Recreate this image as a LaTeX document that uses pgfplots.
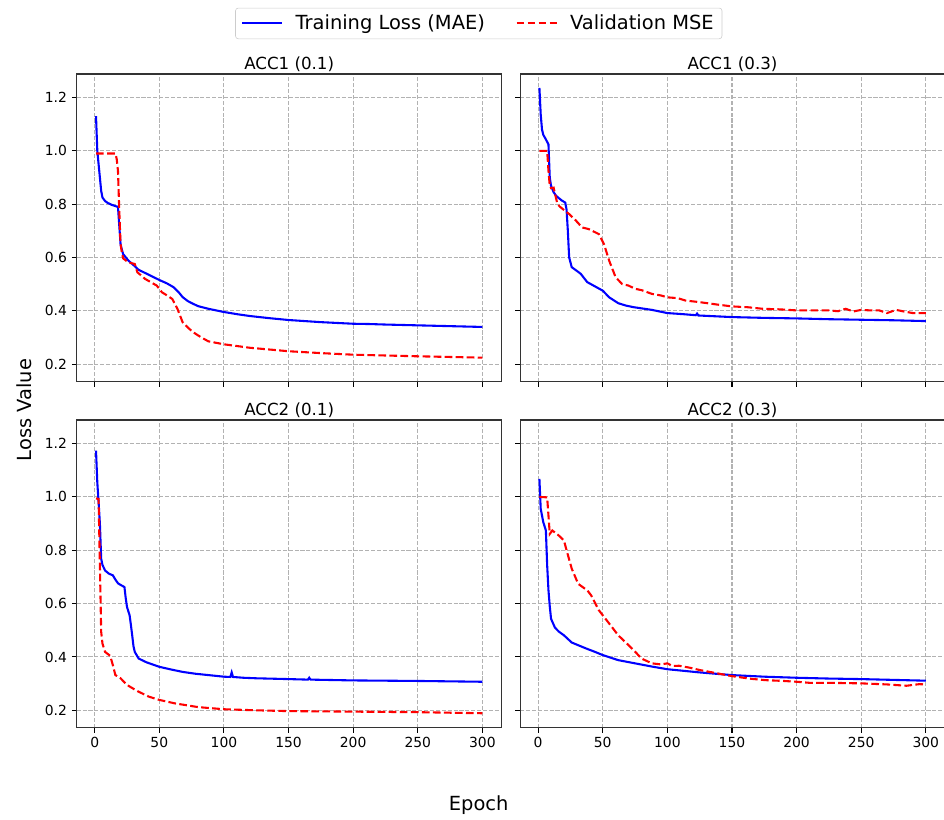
\documentclass[border=0pt]{standalone}
\usepackage{fontspec}
\setmainfont{DejaVu Sans}
\usepackage{pgfplots}
\pgfplotsset{compat=1.18}

% 1 px of the reference = 0.72pt
\pgfplotsset{
  panel/.style={
    anchor=north west,
    scale only axis, width=306pt, height=221.5pt,
    xmin=-13.95, xmax=314.95, ymin=0.135, ymax=1.288,
    xtick={0,50,100,150,200,250,300},
    ytick={0.2,0.4,0.6,0.8,1.0,1.2},
    grid=major,
    major grid style={black!30, line width=0.8pt, dash pattern=on 2.96pt off 1.28pt},
    tick align=outside, xtick pos=bottom, ytick pos=left,
    major tick length=3.5pt,
    tick style={black, line width=0.8pt},
    axis line style={black!80, line width=0.8pt},
    ticklabel style={font=\fontsize{10}{12}\selectfont},
    /pgf/number format/assume math mode=true,
    yticklabel style={/pgf/number format/.cd, fixed, fixed zerofill, precision=1},
    title style={font=\fontsize{12}{14}\selectfont, at={(0.5,1)}, anchor=base, yshift=-2.4pt},
  },
  train/.style={blue, line width=1.5pt, no markers},
  valid/.style={red, line width=1.5pt, no markers, dash pattern=on 5.55pt off 2.4pt},
}

\begin{document}
\begin{tikzpicture}
\useasboundingbox (0pt,0pt) rectangle (679.68pt,-589.68pt);

% ACC1 (0.1)
\begin{axis}[panel, at={(55.22pt,-53.28pt)}, title={ACC1 (0.1)}, xticklabels={},
  legend columns=2, legend cell align=left,
  legend image code/.code={\draw[#1] (0pt,0pt) -- (28.8pt,0pt);},
  legend style={at={(0.946,1.1644)}, anchor=center, draw=black!20, rounded corners=2pt,
    font=\fontsize{14}{16.8}\selectfont, inner xsep=4pt, inner ysep=3pt,
    /tikz/every odd column/.append style={column sep=7pt},
    /tikz/every even column/.append style={column sep=20pt}}]
\addplot[train] coordinates {
(1,1.130) (2,1.0) (3,0.95) (4,0.90) (5,0.85) (6,0.825) (8,0.812) (10,0.805) (13,0.798)
(16,0.793) (18,0.79) (19,0.72) (20,0.65) (21,0.63) (22,0.613) (26,0.589) (30,0.572)
(34,0.554) (40,0.54) (50,0.516) (56,0.503) (61,0.489) (65,0.47) (68,0.452) (72,0.437)
(76,0.427) (80,0.418) (88,0.408) (100,0.396) (110,0.388) (120,0.381) (135,0.373)
(150,0.366) (175,0.358) (200,0.352) (212,0.351) (225,0.349) (250,0.346) (275,0.343) (300,0.340)};
\addlegendentry{Training Loss (MAE)}
\addplot[valid] coordinates {
(1,0.99) (5,0.99) (10,0.99) (16,0.99) (17,0.97) (18,0.925) (19,0.776) (20,0.65) (21,0.62)
(22,0.597) (26,0.582) (31,0.576) (33,0.545) (39,0.52) (48,0.495) (52,0.47) (56,0.458)
(60,0.445) (64,0.408) (68,0.358) (72,0.338) (76,0.321) (82,0.302) (88,0.286) (100,0.275)
(120,0.262) (150,0.249) (175,0.242) (200,0.236) (250,0.230) (300,0.225)};
\addlegendentry{Validation MSE}
\end{axis}

% ACC1 (0.3)
\begin{axis}[panel, at={(374.47pt,-53.28pt)}, title={ACC1 (0.3)}, xticklabels={}, yticklabels={}]
\addplot[train] coordinates {
(1,1.236) (2,1.136) (3,1.08) (4,1.06) (6,1.043) (8,1.024) (9,0.90) (10,0.869) (12,0.845)
(14,0.831) (18,0.815) (21,0.806) (22,0.78) (23,0.70) (24,0.601) (26,0.564) (30,0.550)
(33,0.539) (38,0.508) (44,0.492) (50,0.476) (55,0.451) (62,0.429) (68,0.420) (74,0.414)
(88,0.404) (100,0.392) (112,0.388) (122,0.384) (123,0.390) (124,0.383) (150,0.377)
(175,0.374) (200,0.372) (225,0.369) (250,0.367) (275,0.365) (300,0.362)};
\addplot[valid] coordinates {
(1,1.0) (7,1.0) (8,0.925) (9,0.87) (10,0.86) (12,0.862) (13,0.84) (15,0.80) (17,0.79)
(24,0.763) (29,0.74) (34,0.713) (39,0.707) (47,0.688) (51,0.65) (55,0.588) (60,0.526)
(65,0.501) (70,0.495) (75,0.483) (80,0.478) (88,0.464) (95,0.458) (100,0.451) (108,0.448)
(114,0.439) (125,0.433) (140,0.423) (150,0.417) (162,0.414) (174,0.408) (187,0.406)
(200,0.402) (225,0.402) (232,0.399) (238,0.408) (244,0.398) (250,0.404) (257,0.402)
(264,0.402) (270,0.392) (277,0.404) (283,0.398) (290,0.392) (300,0.392)};
\end{axis}

% ACC2 (0.1)
\begin{axis}[panel, at={(55.22pt,-302.4pt)}, title={ACC2 (0.1)}]
\addplot[train] coordinates {
(1,1.173) (2,1.054) (3,0.98) (4,0.90) (5,0.768) (6,0.745) (8,0.724) (11,0.712) (14,0.706)
(16,0.69) (18,0.676) (20,0.670) (23,0.662) (24,0.62) (25,0.587) (27,0.556) (28,0.52)
(29,0.481) (30,0.44) (31,0.419) (34,0.394) (40,0.38) (50,0.363) (60,0.352) (68,0.344)
(78,0.337) (88,0.332) (100,0.326) (105,0.325) (106,0.342) (107,0.325) (115,0.322)
(125,0.320) (150,0.317) (165,0.315) (166,0.322) (167,0.315) (200,0.312) (250,0.310) (300,0.307)};
\addplot[valid] coordinates {
(1,0.994) (3,0.992) (4,0.743) (5,0.494) (6,0.45) (8,0.419) (12,0.404) (14,0.37) (16,0.332)
(20,0.32) (25,0.295) (33,0.272) (42,0.251) (50,0.239) (62,0.226) (80,0.212) (100,0.204)
(125,0.200) (150,0.197) (200,0.195) (250,0.193) (300,0.189)};
\end{axis}

% ACC2 (0.3)
\begin{axis}[panel, at={(374.47pt,-302.4pt)}, title={ACC2 (0.3)}, yticklabels={}]
\addplot[train] coordinates {
(1,1.067) (2,0.955) (4,0.905) (6,0.874) (7,0.743) (8,0.65) (9,0.59) (10,0.543) (13,0.51)
(16,0.495) (20,0.481) (26,0.454) (37,0.432) (44,0.419) (50,0.407) (62,0.388) (75,0.376)
(88,0.364) (100,0.354) (125,0.342) (150,0.332) (175,0.326) (200,0.322) (225,0.319)
(250,0.317) (275,0.314) (300,0.311)};
\addplot[valid] coordinates {
(1,1.0) (7,0.998) (8,0.93) (9,0.861) (11,0.874) (16,0.855) (20,0.836) (22,0.80) (26,0.731)
(31,0.674) (35,0.660) (38,0.65) (41,0.631) (47,0.575) (56,0.519) (62,0.481) (70,0.444)
(75,0.42) (80,0.394) (88,0.376) (95,0.372) (100,0.376) (104,0.366) (109,0.367) (117,0.360)
(125,0.351) (137,0.340) (150,0.328) (165,0.318) (176,0.313) (190,0.310) (200,0.307)
(210,0.303) (225,0.303) (250,0.301) (270,0.297) (285,0.292) (295,0.298) (300,0.297)};
\end{axis}

\node[font=\fontsize{14}{16.8}\selectfont] at (344.66pt,-579.96pt) {Epoch};
\node[font=\fontsize{14}{16.8}\selectfont, rotate=90] at (17.28pt,-295.2pt) {Loss Value};
\end{tikzpicture}
\end{document}
